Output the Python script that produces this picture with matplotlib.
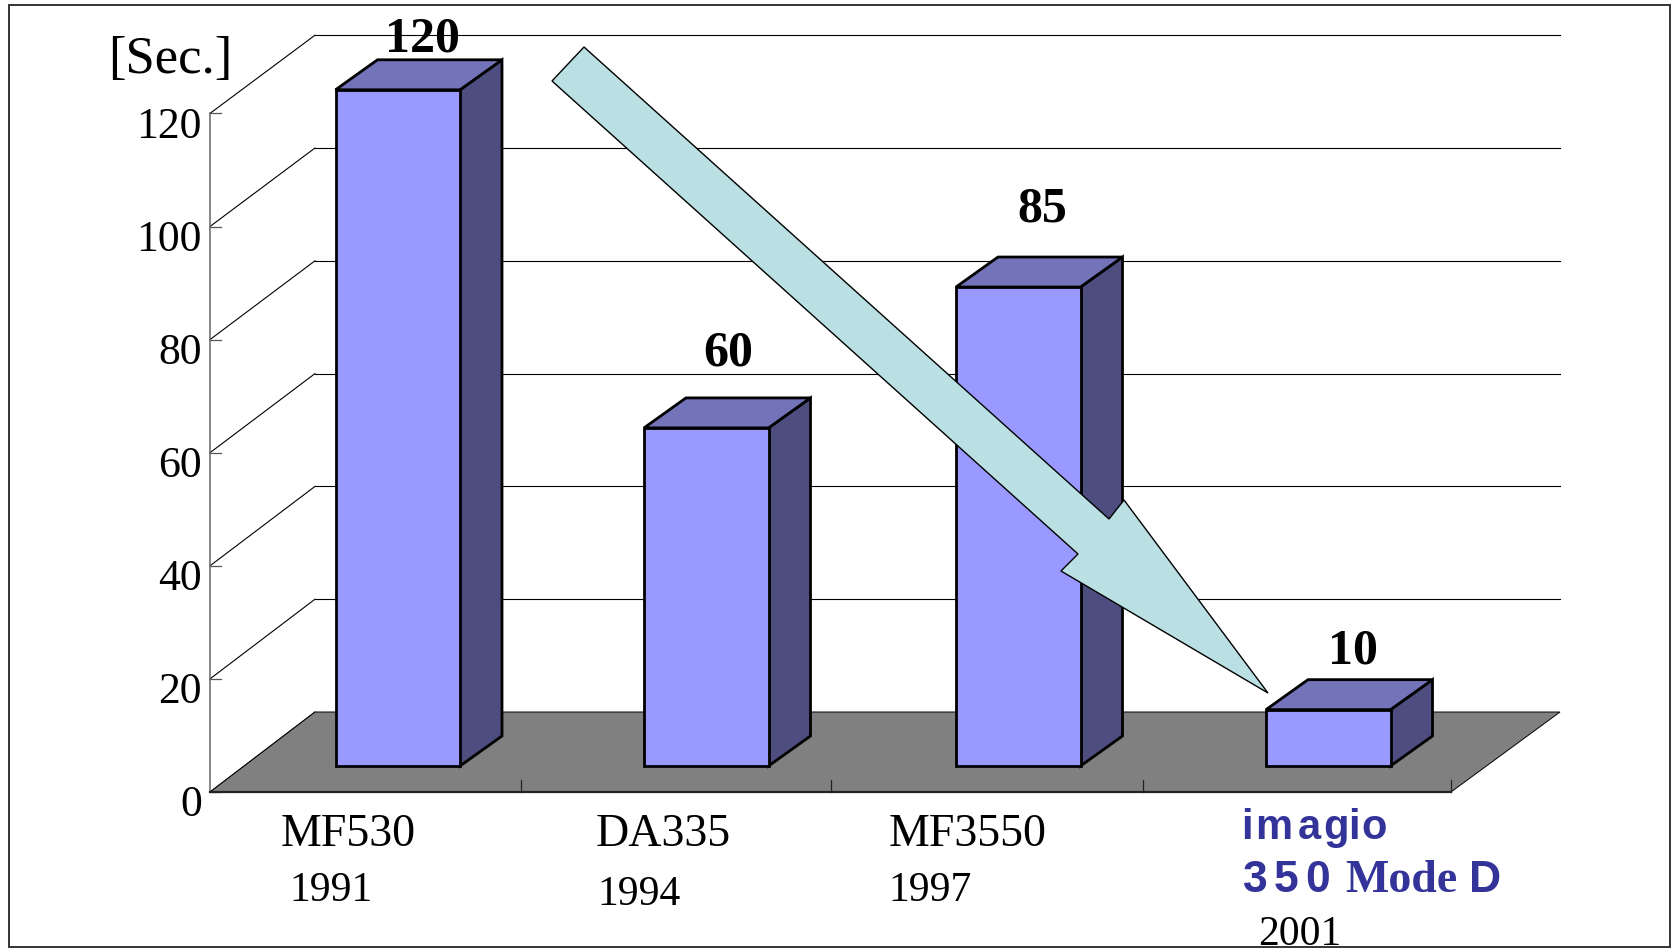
import matplotlib
matplotlib.use('Agg')
import matplotlib.pyplot as plt
from matplotlib.patches import Polygon, Rectangle

# Bar heights in seconds
models = ['MF530', 'DA335', 'MF3550']
years = ['1991', '1994', '1997', '2001']
seconds = [120, 60, 85, 10]
axis_ticks = [0, 20, 40, 60, 80, 100, 120]

fig = plt.figure(figsize=(16.71, 9.5), dpi=100)
ax = fig.add_axes([0, 0, 1, 1])
ax.set_xlim(0, 1671)
ax.set_ylim(950, 0)
ax.axis('off')

plt.rcParams['font.family'] = ['Liberation Serif', 'DejaVu Serif']

# Outer frame
ax.add_patch(Rectangle((9, 5), 1661, 942, fill=False, ec='#333333', lw=1.4, zorder=1))

# Chart geometry in figure pixels
front_x, back_x, right_x = 210, 315, 1560
front_zero, back_zero = 792, 712
floor_right = 1451
front_unit = 5.655
back_unit = 5.64
bar_base = 766
bar_unit = 5.635
bar_left = [335.5, 644, 956, 1266]
bar_width = 124.5
dx, dy = 42, 30

# Back wall gridlines and the slanted side wall lines
for v in axis_ticks:
    yf = front_zero - v * front_unit
    yb = back_zero - v * back_unit
    if v > 0:
        ax.plot([back_x, right_x], [yb, yb], color='black', lw=0.8, zorder=2)
    ax.plot([front_x, back_x], [yf, yb], color='black', lw=0.8, zorder=2)
    ax.plot([front_x, front_x + 11], [yf, yf], color='#555555', lw=0.9, zorder=2)
    ax.text(202, yf + 24.5, str(v), ha='right', va='baseline', fontsize=31.5, zorder=5)
ax.plot([front_x, front_x], [front_zero, front_zero - 120 * front_unit], color='#666666', lw=1.1, zorder=2)

# Floor
ax.add_patch(Polygon([(front_x, front_zero), (floor_right, front_zero), (right_x, back_zero), (back_x, back_zero)],
                     closed=True, fc='#808080', ec='black', lw=0.7, zorder=3))
ax.plot([front_x, floor_right], [front_zero, front_zero], color='#222222', lw=1.6, zorder=3)
for x in [521, 831, 1143, 1451]:
    ax.plot([x, x], [front_zero, front_zero - 12], color='#222222', lw=0.9, zorder=3)

# Bars: front, top and side faces
for left, v in zip(bar_left, seconds):
    top = bar_base - v * bar_unit
    right = left + bar_width
    edge = dict(ec='black', lw=2.0, joinstyle='miter', zorder=4)
    ax.add_patch(Polygon([(right, top), (right + dx, top - dy), (right + dx, bar_base - dy), (right, bar_base)],
                         closed=True, fc='#4D4D80', **edge))
    ax.add_patch(Polygon([(left, top), (left + dx, top - dy), (right + dx, top - dy), (right, top)],
                         closed=True, fc='#7373BA', **edge))
    ax.add_patch(Rectangle((left, top), bar_width, v * bar_unit, fc='#9999FF', **edge))

# Value labels above the bars
label_pos = [(422, 51), (728, 366), (1042, 222), (1353, 664)]
for (x, y), v in zip(label_pos, seconds):
    ax.text(x, y, str(v), ha='center', va='baseline', fontsize=36, fontweight='bold', zorder=5)

# Arrow running down from the first bar to the last one
ax.add_patch(Polygon([(584, 47), (1109, 519), (1124, 500), (1268, 693), (1061, 571), (1078, 554), (552, 81)],
                     closed=True, fc='#BAE0E3', ec='black', lw=1.0, joinstyle='miter', zorder=6))

ax.text(108, 73, '[Sec.]', ha='left', va='baseline', fontsize=38, zorder=5)

# Category and year labels
for x, m in zip([348, 663, 968], models):
    ax.text(x, 846, m, ha='center', va='baseline', fontsize=33, zorder=5)
for x, y, yr in zip([331, 639, 930, 1300], [901, 905, 901, 945], years):
    ax.text(x, y, yr, ha='center', va='baseline', fontsize=30, zorder=5)

# Spaced-out product name
blue = '#333399'
narrow = ['Liberation Sans Narrow', 'Liberation Sans']
for ch, x in zip('imagio', [1247, 1274, 1309, 1336, 1354, 1374]):
    ax.text(x, 839, ch, ha='center', va='baseline', fontsize=30, fontweight='bold', family=narrow, color=blue, zorder=5)
for ch, x in zip('350', [1255, 1286, 1318]):
    ax.text(x, 892, ch, ha='center', va='baseline', fontsize=32, fontweight='bold', family=narrow, color=blue, zorder=5)
ax.text(1345, 892, 'Mode', ha='left', va='baseline', fontsize=33, fontweight='bold', color=blue, zorder=5)
ax.text(1485, 892, 'D', ha='center', va='baseline', fontsize=32, fontweight='bold', family=narrow, color=blue, zorder=5)

fig.savefig('out.png', dpi=100)
